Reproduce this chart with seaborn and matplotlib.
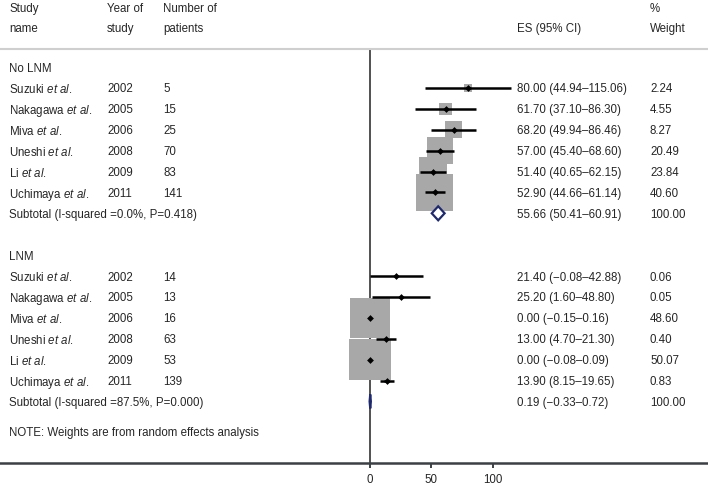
import pandas as pd
import matplotlib.pyplot as plt
import seaborn as sns
from matplotlib.transforms import blended_transform_factory

# Study data
authors = ['Suzuki', 'Nakagawa', 'Miva', 'Uneshi', 'Li', 'Uchimaya']
years = [2002, 2005, 2006, 2008, 2009, 2011]

n_nolnm = [5, 15, 25, 70, 83, 141]
es_nolnm = [80.00, 61.70, 68.20, 57.00, 51.40, 52.90]
lo_nolnm = [44.94, 37.10, 49.94, 45.40, 40.65, 44.66]
hi_nolnm = [115.06, 86.30, 86.46, 68.60, 62.15, 61.14]
w_nolnm = [2.24, 4.55, 8.27, 20.49, 23.84, 40.60]
sub_nolnm = [55.66, 50.41, 60.91]
het_nolnm = 'Subtotal (I-squared =0.0%, P=0.418)'

n_lnm = [14, 13, 16, 63, 53, 139]
es_lnm = [21.40, 25.20, 0.00, 13.00, 0.00, 13.90]
lo_lnm = [-0.08, 1.60, -0.15, 4.70, -0.08, 8.15]
hi_lnm = [42.88, 48.80, 0.16, 21.30, 0.09, 19.65]
w_lnm = [0.06, 0.05, 48.60, 0.40, 50.07, 0.83]
sub_lnm = [0.19, -0.33, 0.72]
het_lnm = 'Subtotal (I-squared =87.5%, P=0.000)'

groups = ['No LNM', 'LNM']
xticks = [0, 50, 100]
note = 'NOTE: Weights are from random effects analysis'

sns.set_style('white')
plt.rcParams['font.family'] = ['Liberation Sans', 'DejaVu Sans']
plt.rcParams['mathtext.fontset'] = 'custom'
plt.rcParams['mathtext.rm'] = 'Liberation Sans'
plt.rcParams['mathtext.it'] = 'Liberation Sans:italic'

TXT = '#262626'
FS = 8.3
W, H = 708, 486
FIRST, STEP = 67, 20.9   # row layout in pixel units

fig = plt.figure(figsize=(7.08, 4.86), dpi=100)
ax = fig.add_axes([0, 23 / H, 1, (463 - 49) / H])
ax.set_xlim(-370 / 1.225, (W - 370) / 1.225)
ax.set_ylim(463, 49)

tr = blended_transform_factory(ax.transAxes, ax.transData)


def put(xpx, y, s):
    ax.text(xpx / W, y, s, transform=tr, fontsize=FS, color=TXT,
            ha='left', va='center_baseline')


def fmt(v):
    return f'{v:.2f}'.replace('-', '\u2212')


# header
put(9, 7, 'Study'); put(9, 27, 'name')
put(107, 7, 'Year of'); put(107, 27, 'study')
put(163, 7, 'Number of'); put(163, 27, 'patients')
put(517, 27, 'ES (95% CI)')
put(650, 7, '%'); put(650, 27, 'Weight')

ax.axvline(0, color='#222222', lw=1.1, zorder=1)

data = [(n_nolnm, es_nolnm, lo_nolnm, hi_nolnm, w_nolnm, sub_nolnm, het_nolnm),
        (n_lnm, es_lnm, lo_lnm, hi_lnm, w_lnm, sub_lnm, het_lnm)]

for g, (name, (nn, es, lo, hi, w, sub, het)) in enumerate(zip(groups, data)):
    base = g * 9
    put(9, FIRST + base * STEP, name)
    ys = [FIRST + (base + 1 + i) * STEP for i in range(len(authors))]
    df = pd.DataFrame({'author': authors, 'year': years, 'n': nn, 'es': es,
                       'lo': lo, 'hi': hi, 'w': w, 'y': ys})
    df['s'] = (5.8 * df['w'] ** 0.5 * 0.72) ** 2

    sns.scatterplot(data=df, x='es', y='y', s=df['s'], marker='s',
                    color='#a8a8a8', linewidth=0, ax=ax, legend=False, zorder=2)
    ax.hlines(df['y'], df['lo'], df['hi'], color='black', lw=1.8, zorder=3)
    sns.scatterplot(data=df, x='es', y='y', marker='D', s=12, color='black',
                    linewidth=0, ax=ax, legend=False, zorder=4)

    for _, r in df.iterrows():
        put(9, r['y'], f"{r['author']} $\\mathit{{et\\ al.}}$")
        put(107, r['y'], str(r['year']))
        put(163, r['y'], str(r['n']))
        put(517, r['y'], f"{fmt(r['es'])} ({fmt(r['lo'])}\u2013{fmt(r['hi'])})")
        put(650, r['y'], f"{r['w']:.2f}")

    ys_sub = FIRST + (base + 7) * STEP
    e, l, h = sub
    ax.fill([l, e, h, e], [ys_sub, ys_sub - 7, ys_sub, ys_sub + 7],
            facecolor='white', edgecolor='#1f2a6e', lw=1.6, zorder=4)
    put(9, ys_sub, het)
    put(517, ys_sub, f"{fmt(e)} ({fmt(l)}\u2013{fmt(h)})")
    put(650, ys_sub, '100.00')

put(9, FIRST + 17.45 * STEP, note)

# axes styling
for side in ['left', 'right']:
    ax.spines[side].set_visible(False)
ax.spines['top'].set_color('#cfcfcf')
ax.spines['top'].set_linewidth(1.5)
ax.spines['bottom'].set_color('#3b4045')
ax.spines['bottom'].set_linewidth(1.8)
ax.set_yticks([])
ax.set_xticks(xticks)
ax.set_xlabel('')
ax.set_ylabel('')
ax.tick_params(axis='x', bottom=True, direction='out', length=3.6, width=1.4,
               color='#3b4045', labelcolor=TXT, labelsize=FS, pad=4)

fig.savefig('out.png', dpi=100)
